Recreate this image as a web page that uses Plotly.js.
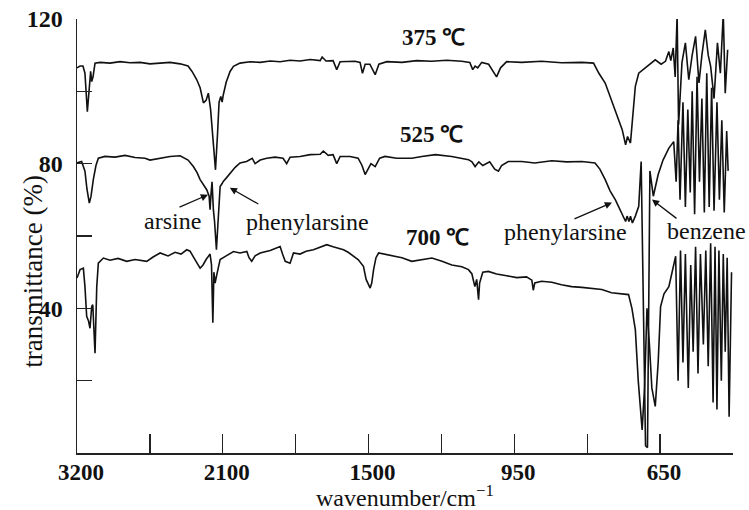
<!DOCTYPE html>
<html>
<head>
<meta charset="utf-8">
<script src="https://cdn.plot.ly/plotly-3.0.1.min.js"></script>
<style>html,body{margin:0;padding:0;background:#fff;}#chart{width:749px;height:510px;}</style>
</head>
<body>
<div id="chart"></div>
<script>
// Axis tick labels (the original axis is non-linear: labelled ticks at every second tick mark)
const tickWavenumbers = [3200, 2650, 2100, 1800, 1500, 1225, 950, 800, 650, 500];
const tickLabels = ['3200', '', '2100', '', '1500', '', '950', '', '650', ''];
const yTickVals = [20, 40, 60, 80, 100, 120];
const yTickLabels = ['', '40', '', '80', '', '120'];

// 375 °C spectrum
const w375 = [3200,3177,3155,3140,3122,3109,3097,3089,3079,3064,3026,2951,2875,2800,2724,2649,2573,2498,2422,2362,
  2332,2296,2271,2246,2226,2209,2192,2173,2155,2140,2128,2115,2105,2098,2086,2070,2056,2029,1988,1946,
  1905,1864,1823,1782,1740,1699,1691,1675,1646,1631,1617,1556,1535,1525,1514,1495,1475,1461,1431,1374,
  1318,1262,1205,1149,1118,1107,1098,1088,1073,1047,1028,1017,1002,979,935,894,853,811,787,776,
  763,753,742,735,728,721,717,711,706,701,694,685,673,660,648,639,632,628,623,619,
  615,612,605,598,591,584,577,570,564,557,551,546,539,532,526,520,516,511];
const t375 = [106.5,107,107,105,94.4,101,105.5,102.7,104,107.8,108,107.8,108.2,107.9,108,107.6,107.8,108,107.6,107,
  105.5,103.2,101,96.8,97.5,99.5,95,86,78.3,88,97,98.6,97,99,102.5,105.5,106.9,107.8,108.2,108,
  108.4,108.2,108.6,108.4,108.8,108.5,109.5,108.4,108.5,106,108.2,108.3,108,105,107.5,107.5,104.6,107.5,108.2,108,
  108.5,108.3,108.6,108.3,108,106,107,106.5,108,107.5,105.5,104,106.5,108.2,108,108.3,107.9,108,107.8,105,
  102.3,98.5,94.9,92,89.4,85.2,87.5,85.7,94,101.4,105,106,107.4,108.7,107.5,108.3,111,108.5,112,104,
  121,90.8,108,113.4,103.2,110,115.2,102.3,110,117,110,106.9,98,113.4,105,121.5,99.5,111.5];

// 525 °C spectrum
const w525 = [3200,3165,3140,3125,3107,3094,3077,3057,3039,2989,2913,2838,2762,2687,2649,2573,2498,2422,2362,2322,
  2294,2271,2245,2221,2203,2196,2188,2181,2171,2162,2148,2135,2120,2105,2098,2086,2070,2049,2029,2002,
  1979,1967,1946,1919,1885,1852,1837,1823,1782,1740,1699,1686,1666,1646,1631,1617,1576,1543,1527,1514,
  1491,1475,1458,1438,1394,1337,1299,1248,1186,1123,1110,1098,1084,1069,1043,1024,1010,998,973,935,
  908,873,842,811,784,774,763,753,742,735,728,721,718,714,711,707,701,694,689,680,
  676,671,664,654,644,632,622,617,613,609,603,598,593,588,584,579,574,569,564,559,
  554,549,544,539,533,528,523,518,513,510];
const t525 = [80.2,80.6,77.9,73,69.1,71,75.6,79.5,81.5,82,81.8,82.3,81.7,81.5,81,81.6,82,82.2,81,79.2,
  77.5,75.6,74,72.8,71,67.3,72,75,67.3,64,56.2,66,73.7,74.5,75.1,76,77.4,79,80.2,80.6,
  81.5,80,81,81.5,81.8,81.5,80,81.8,82,82.5,82.6,83.5,82.3,82.5,80,82,82,81.5,79.5,77,
  80,79.2,81.5,82,81.5,81.5,82,82.5,82,81.1,80.5,79.2,80.5,79.5,80.5,78.5,77.9,79.5,80.6,80.6,
  80.2,80.8,80.5,80.6,80.2,78.5,75.6,72.5,70,68,66.4,64,65.5,64,65.5,63.6,65.5,68.2,80.6,2,
  1.5,78,71,77,81,84.3,86.1,75,92,70,97,68,95,72,100,66,104,75,98,66.5,
  105,68,101,67,97,70,92,66.5,89,78];

// 700 °C spectrum
const w700 = [3200,3177,3152,3140,3127,3113,3102,3089,3081,3072,3064,3051,3039,3001,2951,2890,2825,2762,2674,2626,
  2573,2513,2460,2415,2372,2347,2322,2294,2271,2249,2226,2209,2196,2185,2175,2167,2158,2145,2120,2086,
  2056,2029,2001,1992,1981,1967,1946,1905,1864,1854,1843,1823,1809,1782,1757,1727,1699,1672,1646,1603,
  1584,1562,1543,1521,1510,1494,1488,1481,1472,1462,1431,1400,1374,1337,1299,1261,1223,1186,1148,1123,
  1110,1099,1092,1085,1081,1069,1048,1017,979,945,925,914,911,908,894,873,853,832,811,791,
  770,750,729,715,708,701,695,687,682,677,672,667,660,654,649,642,632,625,618,613,
  608,603,598,592,587,582,577,572,567,561,556,551,546,541,537,533,529,524,520,516,
  512,508,503];
const t700 = [48.4,50.7,51.1,46,37.8,36.5,34.5,40.5,41,32,27.6,46,52.5,53.9,53.3,53.8,53,53.5,53,54.2,
  55.3,54.5,55.5,55,56.2,55.8,54.4,52.5,51.1,52,53.5,54.4,55,52,36,50,47,49.3,53.5,54.5,
  55.7,55.3,55.7,54,53,54.5,55.3,56,57.1,55,53,52.5,55.3,55,55.8,56.2,57,57.6,57,56.2,
  55.5,54.4,53.5,51.6,48,45.6,47,50.7,54,55.3,54.8,54.4,54,53,53.5,53.9,53,52,51.5,50.7,
  49.5,46,48,42.4,47,50,50.2,49.5,49,48.5,48.7,47.8,45,47,47.5,47.2,46.5,46,45.8,45.5,
  45.2,44.3,44,43.8,40,34.1,20,6.4,18,40,30,18,12.9,25,40.5,44,46,50,54.4,20,
  56,25,55,18,52,28,57,22,55,30,56,24,58,14,57,12,56,20,55,28,
  54,10,50];

// piecewise-linear position of a wavenumber on the chart's non-linear axis (tick index units)
function toPos(w) {
  for (let i = 0; i < tickWavenumbers.length - 1; i++) {
    const a = tickWavenumbers[i], b = tickWavenumbers[i + 1];
    if (w <= a && w >= b) return i + (a - w) / (a - b);
  }
  return w > tickWavenumbers[0] ? 0 : tickWavenumbers.length - 1;
}

const serif = 'Liberation Serif, Times New Roman, serif';
const lineStyle = {color: '#111', width: 1.6};
function trace(w, t, name) {
  return {x: w.map(toPos), y: t, mode: 'lines', name: name, line: lineStyle, hoverinfo: 'skip'};
}
const data = [trace(w375, t375, '375 ℃'), trace(w525, t525, '525 ℃'), trace(w700, t700, '700 ℃')];

const tickIdx = tickWavenumbers.map((w, i) => i);

const txt = (text, x, y, size, bold, angle) => ({
  text: text, xref: 'paper', yref: 'paper', x: x, y: y, showarrow: false,
  xanchor: 'center', yanchor: 'middle', textangle: angle || 0,
  font: {family: serif, size: size, color: '#111', weight: bold ? 'bold' : 'normal'}
});
const arrow = (x, y, ax, ay) => ({
  text: '', xref: 'paper', yref: 'paper', x: x, y: y, ax: ax, ay: ay,
  showarrow: true, arrowhead: 2, arrowsize: 1.1, arrowwidth: 1.3, arrowcolor: '#111', standoff: 0
});

const layout = {
  width: 749, height: 510,
  margin: {l: 77, r: 16, t: 19, b: 57, pad: 0},
  paper_bgcolor: '#fff', plot_bgcolor: '#fff',
  showlegend: false,
  xaxis: {
    range: [0, 9], tickmode: 'array', tickvals: tickIdx, ticktext: tickLabels,
    ticks: 'inside', ticklen: 19, tickwidth: 1.3, tickcolor: '#222',
    showline: true, linecolor: '#222', linewidth: 1.5, mirror: false,
    showgrid: false, zeroline: false, ticklabelshift: 4, ticklabelstandoff: -2,
    tickfont: {family: serif, size: 23, color: '#111', weight: 'bold'}
  },
  yaxis: {
    range: [0, 120], tickmode: 'array', tickvals: yTickVals, ticktext: yTickLabels,
    ticks: 'inside', ticklen: 15, tickwidth: 1.3, tickcolor: '#222',
    showline: true, linecolor: '#222', linewidth: 1.5,
    showgrid: false, zeroline: false, ticklabelstandoff: 8,
    tickfont: {family: serif, size: 24, color: '#111', weight: 'bold'}
  },
  annotations: [
    txt('wavenumber/cm<sup>−1</sup>', 0.5, -0.1, 24, false, 0),
    txt('transmittance (%)', -0.067, 0.418, 27, false, -90),
    txt('375 ℃', 0.544, 0.957, 23, true),
    txt('525 ℃', 0.541, 0.733, 23, true),
    txt('700 ℃', 0.549, 0.496, 23, true),
    txt('arsine', 0.145, 0.535, 24, false),
    txt('phenylarsine', 0.352, 0.533, 24, false),
    txt('phenylarsine', 0.744, 0.510, 24, false),
    txt('benzene', 0.960, 0.512, 24, false),
    arrow(0.1997, 0.595, -30, 13),
    arrow(0.233, 0.611, 30, 17),
    arrow(0.8155, 0.577, -39, 17),
    arrow(0.8765, 0.584, 26, 20)
  ]
};

Plotly.newPlot('chart', data, layout, {staticPlot: true, displayModeBar: false});
</script>
</body>
</html>
